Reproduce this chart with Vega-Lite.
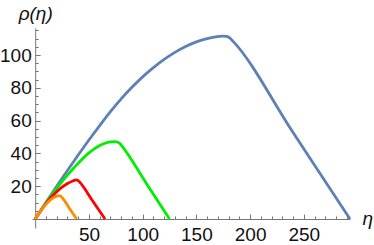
{
  "$schema": "https://vega.github.io/schema/vega-lite/v6.json",
  "width": 318,
  "height": 200,
  "autosize": "none",
  "padding": {"left": 32, "top": 28, "right": 24, "bottom": 17},
  "config": {
    "view": {"stroke": null},
    "axis": {"grid": false, "domainColor": "#777", "tickColor": "#777", "labelFont": "Liberation Sans", "labelFontSize": 19, "labelColor": "#111", "titleFont": "Liberation Sans", "titleFontSize": 19, "titleFontWeight": "normal", "titleColor": "#111"}
  },
  "data": {"values": [
    {"s": "s1", "x": 0, "y": 0}, {"s": "s1", "x": 10, "y": 10}, {"s": "s1", "x": 20, "y": 20}, {"s": "s1", "x": 30, "y": 29.6}, {"s": "s1", "x": 40, "y": 39}, {"s": "s1", "x": 50, "y": 48.2}, {"s": "s1", "x": 60, "y": 57}, {"s": "s1", "x": 70, "y": 65.5}, {"s": "s1", "x": 80, "y": 73.3}, {"s": "s1", "x": 90, "y": 80.3}, {"s": "s1", "x": 100, "y": 86.7}, {"s": "s1", "x": 110, "y": 92.3}, {"s": "s1", "x": 120, "y": 97.3}, {"s": "s1", "x": 130, "y": 101.6}, {"s": "s1", "x": 140, "y": 105.2}, {"s": "s1", "x": 150, "y": 108}, {"s": "s1", "x": 160, "y": 110}, {"s": "s1", "x": 168, "y": 111.1}, {"s": "s1", "x": 174, "y": 111.6}, {"s": "s1", "x": 178, "y": 111.4}, {"s": "s1", "x": 181, "y": 110.5}, {"s": "s1", "x": 184, "y": 108.5}, {"s": "s1", "x": 238.5, "y": 54.25}, {"s": "s1", "x": 293, "y": 0},
    {"s": "s2", "x": 0, "y": 0}, {"s": "s2", "x": 5, "y": 5}, {"s": "s2", "x": 10, "y": 9.8}, {"s": "s2", "x": 15, "y": 14.3}, {"s": "s2", "x": 20, "y": 18.7}, {"s": "s2", "x": 25, "y": 22.8}, {"s": "s2", "x": 30, "y": 26.7}, {"s": "s2", "x": 35, "y": 30.5}, {"s": "s2", "x": 40, "y": 34}, {"s": "s2", "x": 45, "y": 37.4}, {"s": "s2", "x": 50, "y": 40.3}, {"s": "s2", "x": 55, "y": 42.8}, {"s": "s2", "x": 60, "y": 44.8}, {"s": "s2", "x": 65, "y": 46.2}, {"s": "s2", "x": 70, "y": 47}, {"s": "s2", "x": 74, "y": 47.2}, {"s": "s2", "x": 77, "y": 46.8}, {"s": "s2", "x": 79, "y": 45.9}, {"s": "s2", "x": 81, "y": 44.3}, {"s": "s2", "x": 103, "y": 22.15}, {"s": "s2", "x": 125, "y": 0},
    {"s": "s3", "x": 0, "y": 0}, {"s": "s3", "x": 5, "y": 4.9}, {"s": "s3", "x": 10, "y": 9.4}, {"s": "s3", "x": 15, "y": 13.3}, {"s": "s3", "x": 20, "y": 16.6}, {"s": "s3", "x": 25, "y": 19.4}, {"s": "s3", "x": 30, "y": 21.6}, {"s": "s3", "x": 35, "y": 23.2}, {"s": "s3", "x": 38, "y": 23.8}, {"s": "s3", "x": 40, "y": 23.4}, {"s": "s3", "x": 42, "y": 22}, {"s": "s3", "x": 53.5, "y": 11}, {"s": "s3", "x": 65, "y": 0},
    {"s": "s4", "x": 0, "y": 0}, {"s": "s4", "x": 4, "y": 4}, {"s": "s4", "x": 8, "y": 7.5}, {"s": "s4", "x": 12, "y": 10.4}, {"s": "s4", "x": 16, "y": 12.6}, {"s": "s4", "x": 20, "y": 13.9}, {"s": "s4", "x": 22, "y": 14.2}, {"s": "s4", "x": 24, "y": 13.8}, {"s": "s4", "x": 26, "y": 12.3}, {"s": "s4", "x": 32.25, "y": 6.15}, {"s": "s4", "x": 38.5, "y": 0}
  ]},
  "mark": {"type": "line", "strokeWidth": 2.8, "interpolate": "monotone", "clip": false},
  "encoding": {
    "x": {"field": "x", "type": "quantitative", "scale": {"domain": [-3, 293], "nice": false, "zero": false},
      "axis": {"title": "η", "titleFontStyle": "italic", "titleAngle": 0, "titleAlign": "left", "titleBaseline": "alphabetic", "titleX": 330, "titleY": 5, "offset": -9,
        "values": [10,20,30,40,50,60,70,80,90,100,110,120,130,140,150,160,170,180,190,200,210,220,230,240,250,260,270,280,290],
        "labelExpr": "datum.value % 50 === 0 ? datum.label : ''",
        "tickSize": {"condition": {"test": "datum.value % 50 === 0", "value": -5}, "value": -3},
        "labelPadding": 11, "labelFlush": false, "labelOverlap": false}},
    "y": {"field": "y", "type": "quantitative", "scale": {"domain": [-5.5, 116.5], "nice": false, "zero": false},
      "axis": {"title": "ρ(η)", "titleFontStyle": "italic", "titleAngle": 0, "titleAlign": "center", "titleBaseline": "alphabetic", "titleX": 0, "titleY": -9, "offset": -3.2,
        "values": [5,10,15,20,25,30,35,40,45,50,55,60,65,70,75,80,85,90,95,100,105,110,115],
        "labelExpr": "datum.value % 20 === 0 ? datum.label : ''",
        "tickSize": {"condition": {"test": "datum.value % 20 === 0", "value": -5}, "value": -3},
        "labelPadding": 9, "labelFlush": false, "labelOverlap": false}},
    "color": {"field": "s", "type": "nominal", "legend": null, "scale": {"domain": ["s1", "s2", "s3", "s4"], "range": ["#5E81B5", "#00EE00", "#FF0000", "#FF8C00"]}}
  }
}
